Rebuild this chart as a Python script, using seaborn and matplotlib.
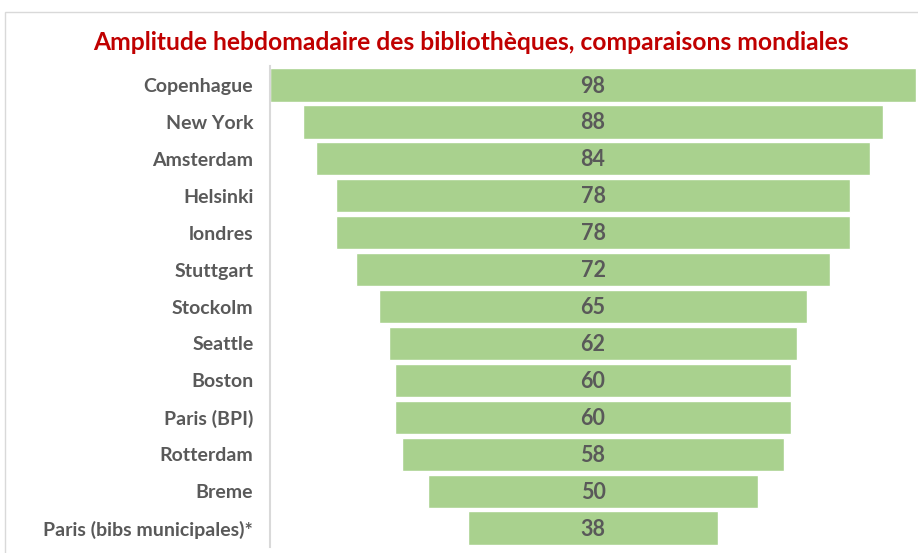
import matplotlib
matplotlib.use("Agg")
import matplotlib.pyplot as plt
import seaborn as sns
import pandas as pd
from matplotlib.patches import Rectangle

villes = ["Copenhague", "New York", "Amsterdam", "Helsinki", "londres", "Stuttgart",
          "Stockolm", "Seattle", "Boston", "Paris (BPI)", "Rotterdam", "Breme",
          "Paris (bibs municipales)*"]
heures = [98, 88, 84, 78, 78, 72, 65, 62, 60, 60, 58, 50, 38]

df = pd.DataFrame({"ville": villes, "heures": heures})
df["gauche"] = -df["heures"] / 2

sns.set_style("white")
plt.rcParams["font.family"] = ["Lato", "DejaVu Sans"]

fig = plt.figure(figsize=(9.18, 5.53), dpi=100)
ax = fig.add_axes([270 / 918, 1 - 546.5 / 553, 646 / 918, 480 / 553])

# funnel: bars centred on zero
sns.barplot(data=df, x="heures", y="ville", color="#A9D18E", saturation=1,
            width=0.9, ax=ax)
for bar, g in zip(ax.patches, df["gauche"]):
    bar.set_x(g)

for i, v in enumerate(heures):
    ax.text(0, i + 0.03, str(v), ha="center", va="center", fontsize=15.5,
            fontweight="bold", color="#595959")

ax.set_xlim(-49, 49)
ax.set_ylim(len(villes) - 0.5, -0.5)
ax.set_xlabel("")
ax.set_ylabel("")
ax.set_xticks([])
ax.tick_params(axis="y", length=0, pad=12, labelsize=14, labelcolor="#595959")
for lab in ax.get_yticklabels():
    lab.set_fontweight("bold")
for s in ["top", "right", "bottom"]:
    ax.spines[s].set_visible(False)
ax.spines["left"].set_color("#D9D9D9")
ax.spines["left"].set_linewidth(1.5)

fig.text(471 / 918, 1 - 43 / 553, "Amplitude hebdomadaire des bibliothèques, comparaisons mondiales",
         ha="center", va="center", fontsize=17.7, fontweight="bold", color="#C00000")

fig.patches.append(Rectangle((5 / 918, -0.01), 1, 1 - 12 / 553 + 0.01,
                             transform=fig.transFigure, fill=False,
                             edgecolor="#D9D9D9", linewidth=1))

fig.savefig("out.png", dpi=100)
